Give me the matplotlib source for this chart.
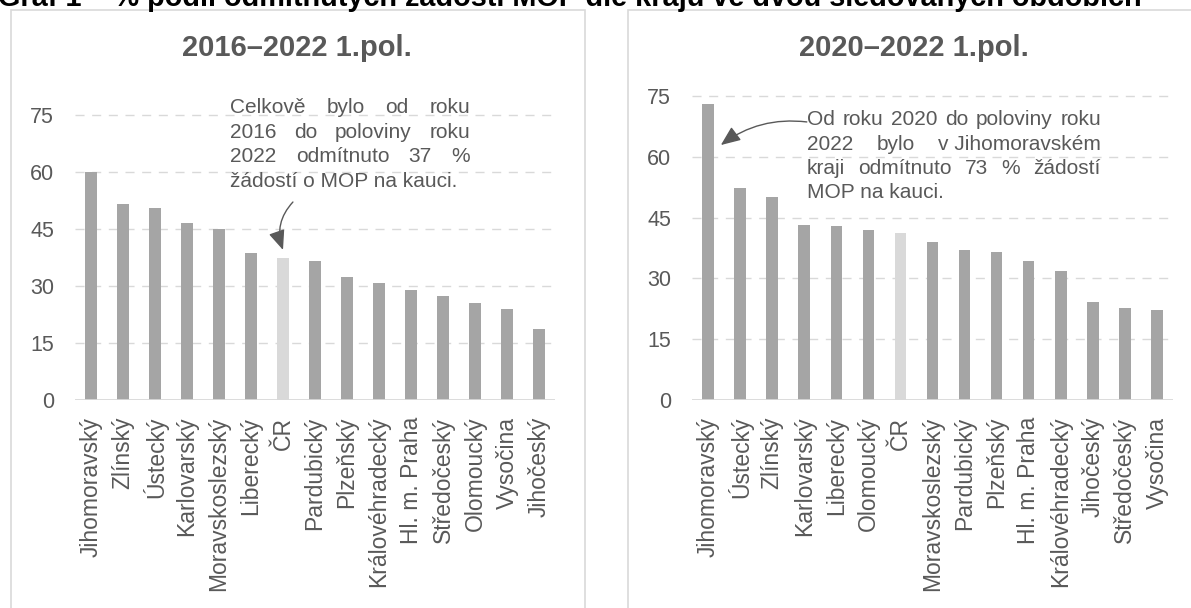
import matplotlib
matplotlib.use("Agg")
import matplotlib.pyplot as plt
from matplotlib.patches import Rectangle

plt.rcParams['font.family'] = ['Liberation Sans', 'DejaVu Sans']

# data
left_cats = ["Jihomoravský", "Zlínský", "Ústecký", "Karlovarský", "Moravskoslezský",
             "Liberecký", "ČR", "Pardubický", "Plzeňský", "Královéhradecký",
             "Hl. m. Praha", "Středočeský", "Olomoucký", "Vysočina", "Jihočeský"]
left_vals = [60.0, 51.5, 50.4, 46.5, 45.0, 38.7, 37.4, 36.5, 32.5, 30.8,
             28.9, 27.5, 25.6, 23.9, 18.6]

right_cats = ["Jihomoravský", "Ústecký", "Zlínský", "Karlovarský", "Liberecký",
              "Olomoucký", "ČR", "Moravskoslezský", "Pardubický", "Plzeňský",
              "Hl. m. Praha", "Královéhradecký", "Jihočeský", "Středočeský", "Vysočina"]
right_vals = [73.1, 52.4, 50.0, 43.1, 42.9, 42.0, 41.3, 39.1, 37.1, 36.4,
              34.2, 31.8, 24.1, 22.7, 22.1]

yticks = [0, 15, 30, 45, 60, 75]

fig_title = "Graf 1 – % podíl odmítnutých žádostí MOP dle kraju ve dvou sledovaných obdobích"
left_title = "2016–2022 1.pol."
right_title = "2020–2022 1.pol."

left_note = ["Celkově bylo od roku", "2016 do poloviny roku",
             "2022 odmítnuto 37 %", "žádostí o MOP na kauci."]
right_note = [["Od", "roku", "2020", "do", "poloviny", "roku"],
              ["2022", "bylo", "v Jihomoravském"],
              ["kraji", "odmítnuto", "73", "%", "žádostí"],
              ["MOP na kauci."]]

W, H = 1191, 608
GREY_TXT = '#595959'
BAR = '#a5a5a5'
BAR_CR = '#d9d9d9'
GRID = '#d9d9d9'

fig = plt.figure(figsize=(W / 100, H / 100), dpi=100)


def fx(px):
    return px / W


def fy(py):
    return 1 - py / H


# panel frames (run past the bottom/right edge as in the source)
fig.patches.append(Rectangle((fx(10.5), fy(700)), fx(585 - 10.5), (700 - 10) / H,
                             transform=fig.transFigure, fill=False,
                             edgecolor='#d9d9d9', linewidth=1.2))
fig.patches.append(Rectangle((fx(628), fy(700)), fx(1200 - 628), (700 - 10) / H,
                             transform=fig.transFigure, fill=False,
                             edgecolor='#d9d9d9', linewidth=1.2))

fig.text(fx(-2), fy(6), fig_title, fontsize=20.8, fontweight='bold',
         color='black', ha='left', va='baseline')


def panel(rect, cats, vals, title, title_x):
    ax = fig.add_axes(rect)
    colors = [BAR_CR if c == "ČR" else BAR for c in cats]
    ax.bar(range(len(cats)), vals, width=0.36, color=colors, zorder=3)
    ax.set_xlim(-0.5, len(cats) - 0.5)
    ax.set_ylim(0, 75)
    ax.set_yticks(yticks)
    ax.set_xticks(range(len(cats)))
    ax.set_xticklabels(cats, rotation=90, fontsize=16.5, color=GREY_TXT)
    ax.tick_params(axis='y', length=0, pad=15, labelsize=15.5, labelcolor=GREY_TXT)
    ax.tick_params(axis='x', length=0, pad=12)
    for s in ax.spines.values():
        s.set_visible(False)
    for t in yticks[1:]:
        ax.axhline(t, color=GRID, linewidth=1, linestyle=(0, (6.5, 5.5)), zorder=1,
                   clip_on=False)
    ax.axhline(0, color=GRID, linewidth=1.3, zorder=4)
    fig.text(fx(title_x), fy(48), title, fontsize=21, fontweight='bold',
             color=GREY_TXT, ha='center', va='center')
    return ax


axl = panel([fx(75), fy(400), fx(480), 285 / H], left_cats, left_vals, left_title, 297)
axr = panel([fx(692), fy(400), fx(481), 304 / H], right_cats, right_vals, right_title, 914)

# justified note text, placed word by word
fig.canvas.draw()
rend = fig.canvas.get_renderer()


def justified(lines, x0, x1, y0, step, size=15):
    for i, words in enumerate(lines):
        yb = fy(y0 + i * step)
        if i == len(lines) - 1:
            fig.text(fx(x0), yb, " ".join(words), fontsize=size, color=GREY_TXT,
                     ha='left', va='baseline')
            continue
        items = [fig.text(0, yb, w, fontsize=size, color=GREY_TXT,
                          ha='left', va='baseline') for w in words]
        widths = [t.get_window_extent(rend).width for t in items]
        gap = (x1 - x0 - sum(widths)) / (len(words) - 1)
        x = x0
        for t, w in zip(items, widths):
            t.set_x(fx(x))
            x += w + gap


justified([l.split() for l in left_note], 230, 470, 113, 24.7)
justified(right_note, 807, 1101, 125, 24.5)

arrow = dict(arrowstyle='-|>,head_length=0.6,head_width=0.25', color=GREY_TXT,
             linewidth=1, mutation_scale=20, shrinkA=0, shrinkB=0)
axl.annotate('', xy=(6.0, 39.5), xytext=(6.31, 52.1),
             arrowprops=dict(arrow, connectionstyle='arc3,rad=0.3'),
             annotation_clip=False)
axr.annotate('', xy=(0.40, 62.9), xytext=(3.08, 68.6),
             arrowprops=dict(arrow, connectionstyle='arc3,rad=0.2'),
             annotation_clip=False)

fig.savefig('out.png', dpi=100)
